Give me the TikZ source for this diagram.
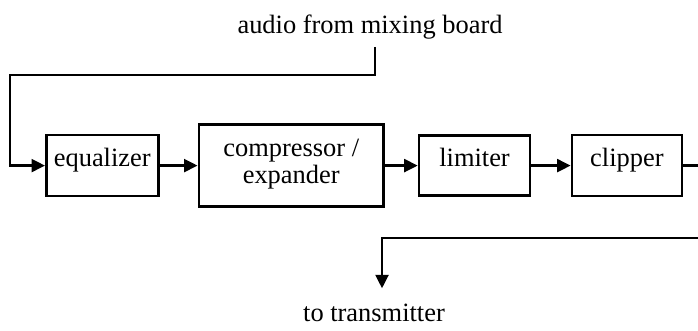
\documentclass[tikz,border=0pt]{standalone}
\usepackage{fontspec}
\setmainfont{Liberation Serif}
\usetikzlibrary{positioning,arrows.meta}
\tikzset{
  box/.style={draw,line width=0.9pt,align=center,inner xsep=2pt,inner ysep=0pt,text height=3.9mm,text depth=3.7mm},
  arr/.style={-{Triangle[length=4.8pt,width=4.6pt]},line width=0.9pt}
}

\begin{document}
\begin{tikzpicture}[font=\fontsize{9.4}{9.6}\selectfont]
  \useasboundingbox (0,0) rectangle (87.25mm,-41.375mm);
  \clip (0,0) rectangle (87.25mm,-41.375mm);
  \node[box,minimum width=14mm,anchor=west] (eq) at (5.625mm,-20.7mm) {equalizer};
  \node[box,minimum width=23.1mm,text height=7.4mm,text depth=2.85mm,right=4.75mm of eq] (comp) {compressor /\\expander};
  \node[box,minimum width=13.9mm,text depth=3.6mm,right=4.1mm of comp] (lim) {limiter};
  \node[box,minimum width=13.75mm,right=4.9mm of lim] (clip) {clipper};
  \node[anchor=base] (src) at (46.25mm,-4.2mm) {audio from mixing board};
  \node[anchor=base,inner ysep=1.9mm] (tx) at (46.75mm,-40.2mm) {to transmitter};
  \coordinate (feed) at (46.875mm,-5.875mm);
  \coordinate (corner) at (1.25mm,-9.375mm);
  \coordinate (turn) at (89mm,-29.75mm);
  \draw[arr] (feed) |- (corner) |- (eq.west);
  \draw[arr] (eq) -- (comp);
  \draw[arr] (comp) -- (lim);
  \draw[arr] (lim) -- (clip);
  \draw[arr] (clip.east) -| (turn) -| ([xshift=1mm]tx.north);
\end{tikzpicture}
\end{document}
